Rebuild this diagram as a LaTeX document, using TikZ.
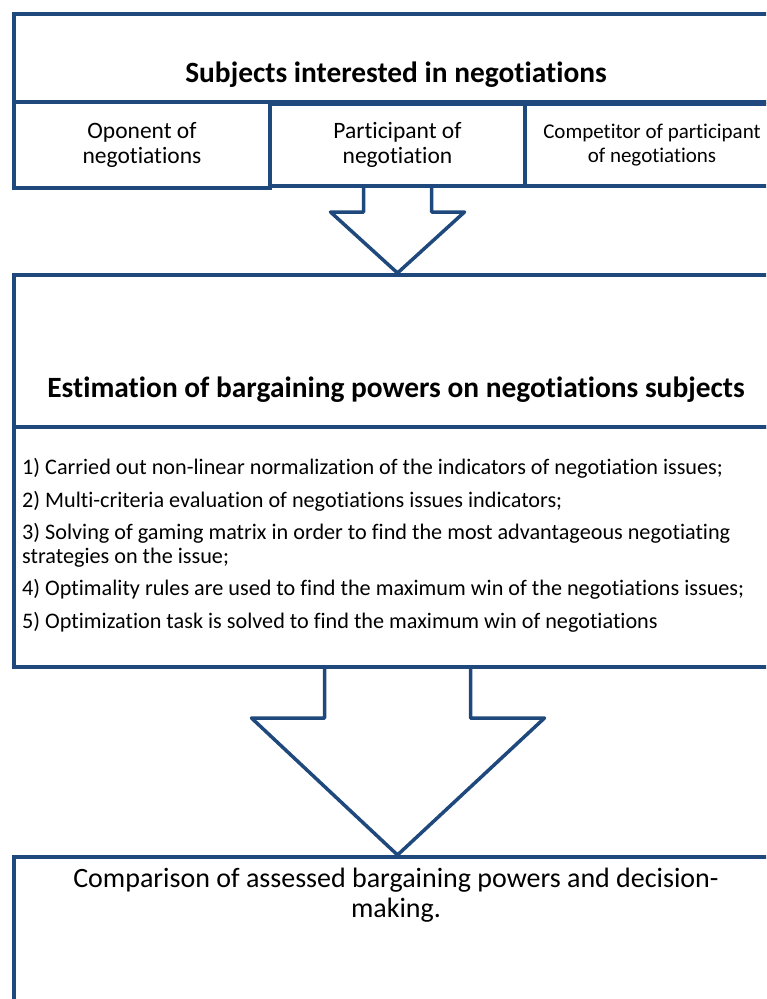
\documentclass[tikz,border=0pt]{standalone}
\usepackage{fontspec}
\setmainfont{Carlito}[Ligatures={NoCommon,NoContextual}]
\usetikzlibrary{calc}
\definecolor{frame}{RGB}{31,73,125}
\begin{document}
\begin{tikzpicture}[x=1pt,y=-1pt,
  box/.style={draw=frame, line width=4pt, rectangle, inner sep=0pt, anchor=north west},
  subtext/.style={align=center, font=\fontsize{23.5}{25}\selectfont},
  smalltext/.style={align=center, font=\fontsize{21}{24}\selectfont},
  headtext/.style={anchor=base, inner sep=0pt, font=\fontsize{29.4}{32}\selectfont\bfseries},
  itemtext/.style={anchor=base west, align=left, inner sep=0pt, font=\fontsize{22.2}{24}\selectfont},
  bigtext/.style={anchor=base, align=center, inner sep=0pt, font=\fontsize{28}{30}\selectfont},
  blockarrow/.style={draw=frame, line width=3.5pt, line join=round, line cap=round}]
\useasboundingbox (0,0) rectangle (766,999);
\clip (0,0) rectangle (766,999);
% top frame
\node[box, minimum width=778pt, minimum height=88pt] (tophead) at (12,12) {};
\node[headtext] (toptitle) at (396,82) {Subjects interested in negotiations};
\node[box, minimum width=256pt, minimum height=86pt, subtext] (sub1) at (12,100) {Oponent of\\negotiations};
\node[box, minimum width=255pt, minimum height=82pt, subtext] (sub2) at (268,102) {Participant of\\negotiation};
\node[box, minimum width=254pt, minimum height=82pt, smalltext] (sub3) at (523,102) {Competitor of participant\\of negotiations};
% middle frame
\node[box, minimum width=778pt, minimum height=152pt] (midhead) at (12,273) {};
\node[headtext] (midtitle) at (396,397) {Estimation of bargaining powers on negotiations subjects};
\node[box, minimum width=778pt, minimum height=240pt] (list) at (12,425) {};
\node[itemtext] (item1) at (22,474) {1) Carried out non-linear normalization of the indicators of negotiation issues;};
\node[itemtext] (item2) at (22,507) {2) Multi-criteria evaluation of negotiations issues indicators;};
\node[itemtext] (item3) at (22,563) {3) Solving of gaming matrix in order to find the most advantageous negotiating\\strategies on the issue;};
\node[itemtext] (item4) at (22,595) {4) Optimality rules are used to find the maximum win of the negotiations issues;};
\node[itemtext] (item5) at (22,628) {5) Optimization task is solved to find the maximum win of negotiations};
% bottom frame
\node[box, minimum width=778pt, minimum height=160pt] (result) at (12,855) {};
\node[bigtext] (resulttext) at (396,917) {Comparison of assessed bargaining powers and decision-\\making.};
% arrows
\coordinate (a1) at (sub2.south);
\coordinate (t1) at (a1 |- midhead.north);
\draw[blockarrow] ($(a1)+(-34,0)$) -- ++(0,24) -- ++(-33,0) -- (t1) -- ($(a1)+(67,24)$) -- ++(-33,0) -- ($(a1)+(34,0)$);
\coordinate (a2) at (a1 |- list.south);
\coordinate (t2) at (a1 |- result.north);
\draw[blockarrow] ($(a2)+(-73,0)$) -- ++(0,49) -- ++(-73,0) -- (t2) -- ($(a2)+(147,49)$) -- ++(-74,0) -- ($(a2)+(73,0)$);
\end{tikzpicture}
\end{document}
